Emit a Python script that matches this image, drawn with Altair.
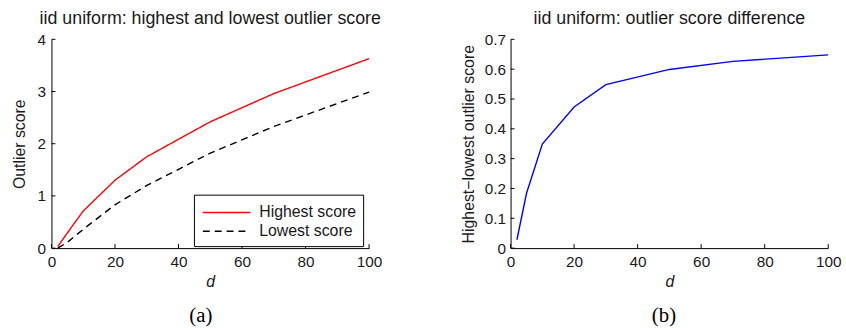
import altair as alt
import pandas as pd

# Dimension values at which the scores were computed
d = [2, 5, 10, 20, 30, 50, 70, 100]
# Highest and lowest outlier score for iid uniform data
highest = [0.03, 0.29, 0.71, 1.30, 1.75, 2.42, 2.96, 3.63]
lowest = [0.0, 0.11, 0.36, 0.83, 1.20, 1.82, 2.33, 2.99]
# Highest minus lowest outlier score
difference = [0.028, 0.183, 0.349, 0.473, 0.548, 0.599, 0.626, 0.648]

x_ticks = [0, 20, 40, 60, 80, 100]
y_ticks_a = [0, 1, 2, 3, 4]
y_ticks_b = [0, 0.1, 0.2, 0.3, 0.4, 0.5, 0.6, 0.7]

series_names = ["Highest score", "Lowest score"]

W, H = 321, 211
FONT = "Liberation Sans"
TEXT = "#1a1a1a"

scores = pd.DataFrame(
    {
        "d": d * 2,
        "score": highest + lowest,
        "series": [series_names[0]] * len(d) + [series_names[1]] * len(d),
    }
)
diff_df = pd.DataFrame({"d": d, "diff": difference})


def axis(title, values, fmt, label_pad, title_pad, italic=False):
    kw = dict(
        title=title,
        values=values,
        format=fmt,
        grid=False,
        ticks=False,
        domainColor="black",
        domainWidth=1,
        labelColor=TEXT,
        labelFont=FONT,
        labelFontSize=15.5,
        labelPadding=label_pad,
        labelFlush=False,
        labelOverlap=False,
        titleFont=FONT,
        titleFontSize=16,
        titleFontWeight="normal",
        titleColor=TEXT,
        titlePadding=title_pad,
    )
    if italic:
        kw["titleFontStyle"] = "italic"
    return alt.Axis(**kw)


X_AXIS = axis("d", x_ticks, "d", 7, 3, italic=True)
X_SCALE = alt.Scale(domain=[0, 100], nice=False)


def inward_ticks(y_vals, y_scale, y_axis):
    # short tick marks drawn on the inside of both axes
    xt = (
        alt.Chart(pd.DataFrame({"t": x_ticks}))
        .mark_rule(color="black", strokeWidth=1)
        .encode(
            x=alt.X("t:Q", scale=X_SCALE, axis=X_AXIS),
            y=alt.value(H),
            y2=alt.value(H - 4),
        )
    )
    yt = (
        alt.Chart(pd.DataFrame({"t": y_vals}))
        .mark_rule(color="black", strokeWidth=1)
        .encode(
            y=alt.Y("t:Q", scale=y_scale, axis=y_axis),
            x=alt.value(0),
            x2=alt.value(4),
        )
    )
    return xt, yt


def caption(text, xpos):
    return (
        alt.Chart(pd.DataFrame({"c": [text]}))
        .mark_text(font="Liberation Serif", fontSize=21, color="black", baseline="middle")
        .encode(text="c:N", x=alt.value(xpos), y=alt.value(H + 69))
    )


def title(text):
    return alt.TitleParams(
        text, font=FONT, fontSize=18, fontWeight="normal", color=TEXT, offset=4
    )


# Left panel: highest and lowest score
ya_scale = alt.Scale(domain=[0, 4], nice=False)
ya_axis = axis("Outlier score", y_ticks_a, "d", 6, 10)
legend = alt.Legend(
    title=None,
    orient="none",
    legendX=144,
    legendY=157,
    symbolType="M-2.4,0H2.4",
    symbolSize=400,
    symbolOffset=15,
    symbolStrokeWidth=1.4,
    labelFont=FONT,
    labelFontSize=16,
    labelColor=TEXT,
    labelOffset=22,
    strokeColor="black",
    fillColor="white",
    padding=7,
    rowPadding=0,
)
lines_a = (
    alt.Chart(scores)
    .mark_line(strokeWidth=1.4)
    .encode(
        x=alt.X("d:Q", scale=X_SCALE, axis=X_AXIS),
        y=alt.Y("score:Q", scale=ya_scale, axis=ya_axis),
        color=alt.Color(
            "series:N",
            scale=alt.Scale(domain=series_names, range=["#ff0000", "#000000"]),
            legend=legend,
        ),
        strokeDash=alt.StrokeDash(
            "series:N",
            scale=alt.Scale(domain=series_names, range=[[1, 0], [7, 5]]),
            legend=legend,
        ),
    )
)
xt_a, yt_a = inward_ticks(y_ticks_a, ya_scale, ya_axis)
chart_a = alt.layer(lines_a, xt_a, yt_a, caption("(a)", 151)).properties(
    width=W, height=H, title=title("iid uniform: highest and lowest outlier score")
)

# Right panel: difference between the two scores
yb_scale = alt.Scale(domain=[0, 0.7], nice=False)
yb_axis = axis("Highest−lowest outlier score", y_ticks_b, ".1~f", 5, 8)
line_b = (
    alt.Chart(diff_df)
    .mark_line(color="#0000ff", strokeWidth=1.4)
    .encode(
        x=alt.X("d:Q", scale=X_SCALE, axis=X_AXIS),
        y=alt.Y("diff:Q", scale=yb_scale, axis=yb_axis),
    )
)
xt_b, yt_b = inward_ticks(y_ticks_b, yb_scale, yb_axis)
chart_b = alt.layer(line_b, xt_b, yt_b, caption("(b)", 155)).properties(
    width=W, height=H, title=title("iid uniform: outlier score difference")
)

chart = (
    alt.hconcat(chart_a, chart_b, spacing=79)
    .resolve_scale(color="independent", strokeDash="independent")
    .properties(padding={"left": 11, "top": 9, "right": 5, "bottom": 0}, background="white")
    .configure_view(stroke=None)
)

chart.save("out.html", embed_options={"renderer": "svg", "actions": False})
